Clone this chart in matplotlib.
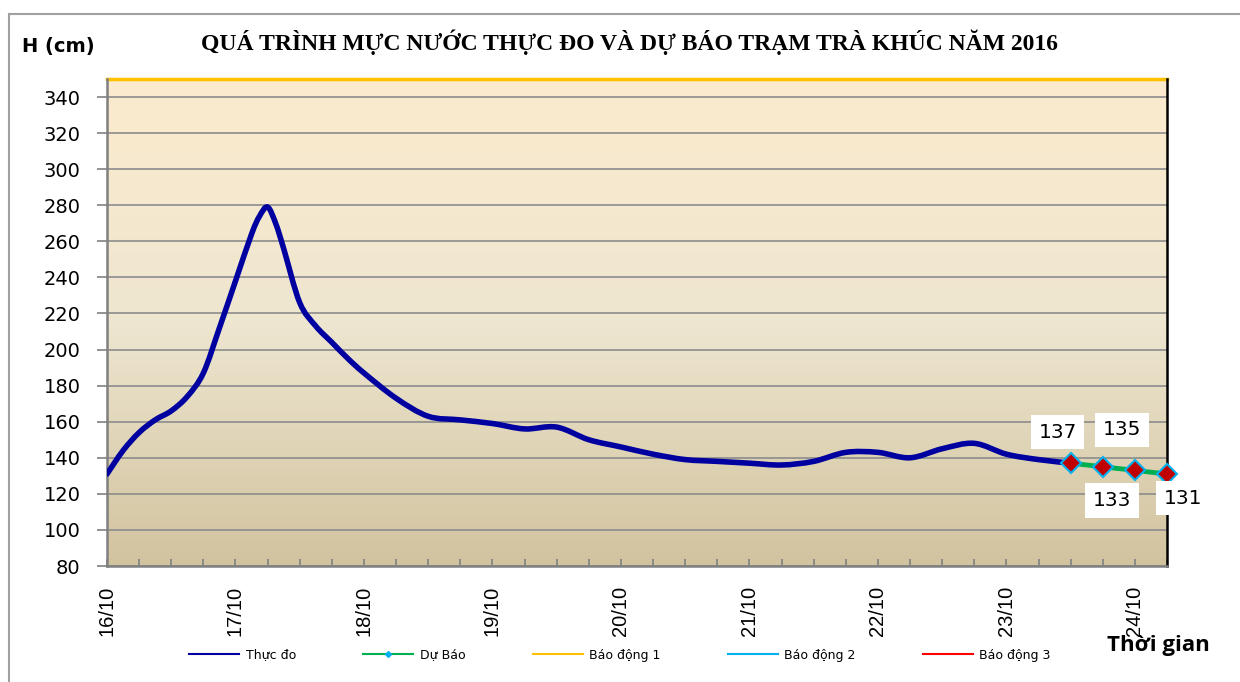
import numpy as np
import matplotlib.pyplot as plt
from matplotlib.colors import LinearSegmentedColormap
from matplotlib.patches import Rectangle, PathPatch
from matplotlib.path import Path
from matplotlib.lines import Line2D
from matplotlib.ticker import MultipleLocator

# gio tinh tu 0h ngay 16/10
gio_thuc_do = [0, 3, 6, 9, 12, 15, 18, 21, 24, 27, 28.5, 30, 31.5, 33, 36, 39, 42, 45, 48,
               54, 60, 66, 72, 78, 84, 90, 96, 102, 108, 114, 120, 126, 132, 138, 144,
               150, 156, 162, 168, 174, 180]
h_thuc_do = [131, 144, 154, 161, 166, 174, 187, 212, 238, 264, 274, 279, 270, 256, 226, 213,
             204, 195, 187, 173, 163, 161, 159, 156, 157, 150, 146, 142, 139, 138, 137, 136,
             138, 143, 143, 140, 145, 148, 142, 139, 137]

gio_du_bao = [180, 186, 192, 198]
h_du_bao = [137, 135, 133, 131]

bao_dong = [350, 500, 650]
ngay = ['16/10', '17/10', '18/10', '19/10', '20/10', '21/10', '22/10', '23/10', '24/10']


def duong_muot(x, y):
    # duong cong kieu Excel (Catmull-Rom -> Bezier)
    p = np.column_stack([x, y]).astype(float)
    p = np.vstack([p[0], p, p[-1]])
    verts = [p[1]]
    codes = [Path.MOVETO]
    for i in range(1, len(p) - 2):
        c1 = p[i] + (p[i + 1] - p[i - 1]) / 6
        c2 = p[i + 1] - (p[i + 2] - p[i]) / 6
        verts += [c1, c2, p[i + 1]]
        codes += [Path.CURVE4] * 3
    return Path(verts, codes)


plt.rcParams['font.family'] = ['DejaVu Sans']

fig = plt.figure(figsize=(12.4, 6.82), dpi=100)
ax = fig.add_axes([107 / 1240, 1 - 566 / 682, (1167 - 107) / 1240, (566 - 79) / 682])

# nen chuyen mau
cmap = LinearSegmentedColormap.from_list('nen', [(0, '#D2C39F'), (0.5, '#EEE6D0'), (1, '#FCEBCD')])
grad = np.linspace(0, 1, 256).reshape(-1, 1)
ax.imshow(grad, cmap=cmap, aspect='auto', origin='lower', extent=[0, 1, 0, 1],
          transform=ax.transAxes, zorder=0)

ax.set_xlim(0, 198)
ax.set_ylim(80, 350)
ax.set_yticks(np.arange(80, 341, 20))
ax.grid(axis='y', color='#8C8C8C', lw=1.2, zorder=1)
ax.set_axisbelow(True)

ax.add_patch(PathPatch(duong_muot(gio_thuc_do, h_thuc_do), fill=False, edgecolor='#0000A0',
                       lw=4, capstyle='round', joinstyle='round', zorder=3))
ax.plot(gio_du_bao, h_du_bao, color='#00B050', lw=3.5, marker='D', ms=10,
        mfc='#C00000', mec='#00B0F0', mew=1.5, zorder=4, clip_on=False)
mau_bd = ['#FFC000', '#00B0F0', '#FF0000']
for i, (lv, c) in enumerate(zip(bao_dong, mau_bd)):
    ax.plot([0, 198], [lv, lv], color=c, lw=2.5, zorder=2, clip_on=(i != 0))

# nhan so lieu du bao
lech = [(-13, 31), (19, 37), (-23, -30), (16, -24)]
for x, y, (dx, dy) in zip(gio_du_bao, h_du_bao, lech):
    ax.annotate(str(y), (x, y), xytext=(dx * 0.72, dy * 0.72), textcoords='offset points',
                ha='center', va='center', fontsize=14.5, zorder=6, annotation_clip=False,
                bbox=dict(boxstyle='square,pad=0.38', fc='white', ec='none'))

ax.set_xticks(np.arange(0, 193, 24))
ax.set_xticklabels(ngay, rotation=90, fontsize=14.5, family=['Liberation Sans'])
ax.xaxis.set_minor_locator(MultipleLocator(6))
ax.tick_params(axis='x', which='both', direction='in', length=5, color='#808080',
               width=1.2, pad=14)
ax.tick_params(axis='y', direction='out', length=7, color='#808080', width=1.2,
               labelsize=14, pad=12)

for s in ['left', 'bottom']:
    ax.spines[s].set_color('#808080')
    ax.spines[s].set_linewidth(1.8)
ax.spines['right'].set_color('black')
ax.spines['right'].set_linewidth(1.8)
ax.spines['top'].set_visible(False)

fig.text(0.508, 0.938, 'QUÁ TRÌNH MỰC NƯỚC THỰC ĐO VÀ DỰ BÁO TRẠM TRÀ KHÚC NĂM 2016',
         ha='center', va='center', fontsize=17, fontweight='bold',
         family=['Liberation Serif', 'DejaVu Serif'])
fig.text(22 / 1240, 0.932, 'H (cm)', ha='left', va='center', fontsize=14, fontweight='bold')
fig.text(1107 / 1240, 1 - 645 / 682, 'Thời gian', ha='left', va='center', fontsize=16,
         fontweight='bold', family=['Open Sans', 'DejaVu Sans'])

tay = [Line2D([], [], color='#0000A0', lw=1.5),
       Line2D([], [], color='#00B050', lw=1.5, marker='D', ms=3, mfc='#00B0F0', mec='#00B0F0'),
       Line2D([], [], color='#FFC000', lw=1.5),
       Line2D([], [], color='#00B0F0', lw=1.5),
       Line2D([], [], color='#FF0000', lw=1.5)]
nhan = ['Thực đo', 'Dự Báo', 'Báo động 1', 'Báo động 2', 'Báo động 3']
fig.legend(tay, nhan, loc='center', bbox_to_anchor=(0.5, 1 - 655 / 682), ncol=5, frameon=False,
           fontsize=9, handlelength=4.0, columnspacing=5.4, handletextpad=0.5)

fig.add_artist(Rectangle((9 / 1240, -0.01), 1.1, 0.01 + 1 - 14 / 682, transform=fig.transFigure,
                         fill=False, edgecolor='#A0A0A0', lw=1.5))

fig.savefig('out.png', dpi=100)
